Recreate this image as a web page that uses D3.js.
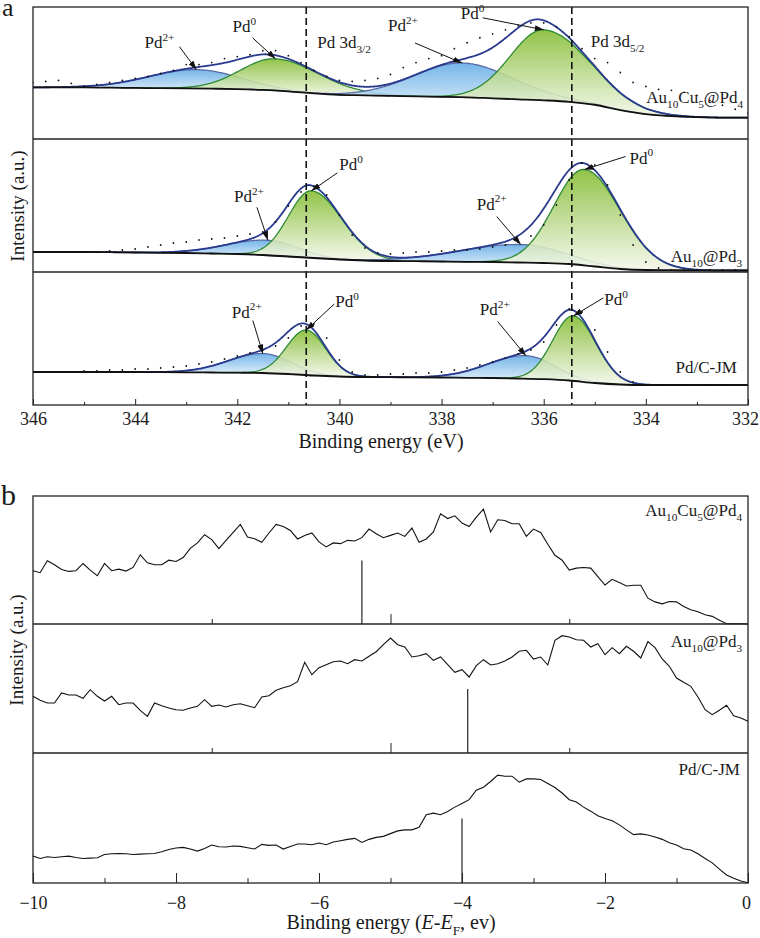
<!DOCTYPE html>
<html>
<head>
<meta charset="utf-8">
<script src="https://cdn.jsdelivr.net/npm/d3@7/dist/d3.min.js"></script>
<style>
  body { margin: 0; background: #fff; }
  svg { display: block; }
  text { font-family: "Liberation Serif", "Tinos", "DejaVu Serif", serif; fill: #1a1a1a; }
</style>
</head>
<body>
<svg id="chart" width="760" height="938"></svg>
<script>
// ---------- values ----------
var samples = ["Au10Cu5@Pd4", "Au10@Pd3", "Pd/C-JM"];

// (a) Pd 3d XPS
var xpsTicks = [346, 344, 342, 340, 338, 336, 334, 332];
var xpsMinorTicks = [345, 343, 341, 339, 337, 335, 333];
var doublets = [340.65, 335.45];
var doubletNames = ["3/2", "5/2"];
var states = ["2+", "0", "2+", "0"];
var peakCenter = [[342.8, 341.25, 337.6, 336.0], [341.4, 340.55, 336.45, 335.2], [341.5, 340.65, 336.35, 335.42]];
var peakHeight = [[19, 32, 34.5, 71], [15, 67, 18, 96], [19.5, 45, 23, 65]];
var peakFwhmHigh = [[2.2, 1.6, 2.2, 1.55], [1.9, 1.05, 2.8, 1.4], [1.6, 0.9, 1.75, 0.95]];
var peakFwhmLow = [[2.0, 2.05, 2.35, 2.1], [1.4, 1.4, 2.0, 1.65], [1.3, 0.9, 1.3, 1.05]];

var bgEnergy = [346, 345.5, 345, 344.5, 344, 343.5, 343, 342.5, 342, 341.5, 341, 340.5, 340, 339.5, 339,
  338.5, 338, 337.5, 337, 336.5, 336, 335.5, 335, 334.5, 334, 333.5, 333, 332.5, 332];
var bgValues = [
  [52, 52, 52, 51.7, 51.5, 51.2, 51, 50.7, 50.3, 49.5, 48, 46, 44.5, 44, 43.5, 43, 42.5, 42, 41, 40, 39, 37.5, 34.5, 29, 25, 23, 22, 21.5, 21.5],
  [20, 20, 20, 19.8, 19.5, 19.2, 19, 18.5, 18, 17, 15.5, 14, 12.5, 11.5, 11, 10.8, 10.5, 10.2, 10, 9.5, 9, 8, 5.5, 3, 2, 1.8, 1.6, 1.5, 1.5],
  [33, 33, 33, 33, 33, 32.8, 32.7, 32.5, 32.3, 32, 31, 29.5, 28.5, 28, 27.8, 27.6, 27.5, 27.2, 27, 26.5, 25.8, 24.5, 22, 20.5, 20, 20, 20, 20, 20]
];

var rawStart = 346, rawStep = 0.25;
var xpsRaw = [
  [57, 58, 59, 56, 53, 55, 57, 59, 61, 63, 66, 69, 75, 75, 77, 81, 83, 85, 89, 89, 84, 77, 69, 63, 59, 58, 59, 61, 65,
   72, 77, 81, 84, 91, 97, 102, 106, 110, 114, 117, 117, 113, 103, 91, 81, 77, 67, 57, 53, 50, 49, 47, 44, 39, 34, 30, 26],
  [20, 20, 20, 20, 20, 20, 21, 22, 23, 25, 27, 29, 30, 32, 33, 34, 36, 38, 40, 50, 66, 80, 86, 77, 57, 37, 24, 19, 18,
   19, 20, 20, 21, 22, 22, 23, 25, 27, 30, 36, 47, 67, 92, 109, 107, 87, 57, 27, 10, 4, 2, 2, 2, 2, 2, 2, 2],
  [33, 33, 33, 33, 34, 34, 35, 35, 36, 36, 37, 38, 39, 41, 43, 46, 49, 52, 55, 59, 67, 79, 81, 67, 45, 33, 30, 30, 31,
   31, 32, 32, 33, 35, 37, 40, 43, 47, 51, 55, 63, 80, 96, 93, 75, 53, 33, 23, 20, 20, 20, 20, 20, 20, 20, 20, 20]
];

// (b) valence band
var vbTicks = [-10, -8, -6, -4, -2, 0];
var vbMinorTicks = [-9, -7, -5, -3, -1];
var vbInnerTicks = [-7.5, -5, -2.5];
var dBandCenter = [-5.40, -3.92, -4.00];
var vbStart = -10, vbStep = 0.1;
var vbValues = [
  [53.7, 51.7, 63.7, 59.7, 55, 53, 53.7, 61, 54.3, 48.7, 61, 53.7, 55.3, 53.3, 57, 69.7, 61.7, 59.7, 59.7, 64.3,
   63, 67, 76.3, 81.7, 90, 85, 76, 84.3, 92.3, 100.3, 87.7, 86, 82.3, 91.7, 100.3, 98.3, 94.3, 85.7, 89.3, 91.7,
   82.7, 77.7, 81.7, 81, 84.3, 83.7, 87, 95.7, 91, 87, 89.3, 91.7, 88.3, 96.7, 82.3, 85.7, 92.7, 111, 106.3, 109,
   101.7, 98.3, 107.7, 115.7, 92.7, 105, 104.3, 101, 101, 88.3, 95.7, 92.3, 80.3, 69.3, 64.3, 54.3, 56.3, 57, 56.3, 47.7,
   39.3, 45, 41.7, 38.3, 39, 39, 26, 22.3, 20.3, 22.7, 22.3, 17.7, 14.3, 12.3, 9.3, 7.7, 3.7, 0.3, 0.3, 0.3, 0],
  [56.7, 52.7, 50, 50, 60, 58, 58, 54.7, 63.3, 56.7, 52, 56.7, 48.3, 50, 50, 42.7, 36.7, 50, 47.3, 45,
   43.3, 42.7, 45, 46.7, 53.3, 46.7, 48, 46, 48.3, 49.3, 47.3, 45.3, 56, 57.3, 62.7, 65.3, 67.3, 71.3, 90.7, 78.3,
   85.3, 88.3, 91.3, 92, 89.3, 93.3, 92, 96.7, 101.3, 108.3, 115, 108.3, 106, 96, 97.3, 99.3, 92.7, 96, 88.3, 80.7,
   83.3, 76, 87.3, 93.3, 88, 89.3, 92, 96, 101.7, 102.7, 94, 96, 88, 112.7, 117.3, 116, 113.3, 112.7, 106, 109.3,
   98.3, 105.3, 99.3, 106.7, 101.7, 95, 111.3, 105.3, 94, 86.7, 75, 70.7, 66.7, 56, 43.3, 38.3, 42.7, 47.7, 37.3, 35, 31.7],
  [26.7, 24.3, 26, 25.3, 26, 26.7, 25.3, 24.3, 24.7, 25, 28.3, 29, 29.3, 29, 28.3, 28.7, 29, 29.3, 31, 33.3,
   34.7, 35.3, 33.7, 31.7, 34.3, 37.7, 36, 35.7, 36.7, 36.3, 35, 33.7, 38.3, 37.3, 37.7, 33.7, 36.3, 38.7, 38.7, 38,
   39.7, 38, 40.7, 42, 43.3, 44.3, 40.3, 43.3, 45.3, 46.3, 49, 51.7, 52.7, 52.7, 55.3, 67.7, 69.3, 67.7, 71, 75.3,
   79, 82.7, 92, 95, 100.7, 107, 106, 106, 100, 103.3, 103.3, 102.7, 98.7, 94.7, 89.3, 82.7, 80.3, 75.3, 71.3, 66.7,
   64, 61.7, 57.7, 52.7, 48, 48.7, 47.7, 45.7, 43.3, 40, 37.7, 34, 32.7, 29, 24.3, 20, 13.7, 8, 4.7, 2, 0.3]
];

// ---------- layout ----------
var left = 33, right = 748;
var aRows = [7, 139, 272, 405];
var bRows = [496, 624, 753, 883];
var serif = "'Liberation Serif', 'Tinos', 'DejaVu Serif', serif";

// callouts: [textDx, textDy, arrowDx, arrowDy] relative to each component's top
var callouts = [
  [[-52, -22, -17, -23], [-43, -27, -23, -21], [-74, -32, -47, -20], [-83, -11, -61, -12]],
  [[-34, -38, -11, -33], [28, -21, 26, -18], [-44, -35, -24, -28], [45, -6, 41, -13]],
  [[-31, -36, -10, -33], [29, -23, 28, -26], [-46, -41, -28, -34], [31, -11, 30, -18]]
];
var xpsNameRight = [743, 742, 737], xpsNameUp = [36, 10, 32];
var vbNameRight = [742, 742, 740], vbNameDown = [20, 23, 22];

var svg = d3.select("#chart").attr("font-family", serif);
var defs = svg.append("defs");

function addGradient(id, top, bottom) {
  var g = defs.append("linearGradient").attr("id", id)
    .attr("x1", 0).attr("y1", 0).attr("x2", 0).attr("y2", 1);
  g.append("stop").attr("offset", "0%").attr("stop-color", top);
  g.append("stop").attr("offset", "100%").attr("stop-color", bottom);
}
addGradient("gBlue", "#62abe5", "#eef6fc");
addGradient("gGreen", "#82bb2f", "#f5f8ec");

defs.append("marker").attr("id", "arrow")
  .attr("viewBox", "0 0 9 6").attr("refX", 9).attr("refY", 3)
  .attr("markerWidth", 9).attr("markerHeight", 6)
  .attr("markerUnits", "userSpaceOnUse").attr("orient", "auto")
  .append("path").attr("d", "M0,0L9,3L0,6Z").attr("fill", "#111");

function rich(g, x, y, parts, size, anchor) {
  var t = g.append("text").attr("x", x).attr("y", y)
    .attr("font-size", size).attr("text-anchor", anchor || "start");
  var cur = 0;
  parts.forEach(function(p) {
    var shift = p.sub ? size * 0.3 : (p.sup ? -size * 0.42 : 0);
    var ts = t.append("tspan").attr("dy", shift - cur).text(p.t);
    if (p.sub || p.sup) ts.attr("font-size", size * 0.66);
    if (p.it) ts.style("font-style", "italic");
    cur = shift;
  });
  return t;
}

function formula(name) {
  return name.split(/(\d+)/).filter(function(s) { return s.length; })
    .map(function(s) { return /^\d+$/.test(s) ? {t: s, sub: true} : {t: s}; });
}

function peakAt(e, c, h, wHigh, wLow) {
  var s = (e > c ? wHigh : wLow) / 2.3548;
  return h * Math.exp(-(e - c) * (e - c) / (2 * s * s));
}

// ================= panel (a) =================
var xA = d3.scaleLinear().domain([346, 332]).range([left, right]);
var fine = d3.range(346, 331.99, -0.02);

samples.forEach(function(name, i) {
  var top = aRows[i], bottom = aRows[i + 1];
  var y = d3.scaleLinear().domain([0, 133]).range([bottom, top]);
  var bg = d3.scaleLinear().domain(bgEnergy).range(bgValues[i]);

  defs.append("clipPath").attr("id", "clipA" + i)
    .append("rect").attr("x", left).attr("y", top).attr("width", right - left).attr("height", bottom - top);
  var g = svg.append("g").attr("clip-path", "url(#clipA" + i + ")");

  // fitted components
  peakCenter[i].forEach(function(c, k) {
    var h = peakHeight[i][k], wh = peakFwhmHigh[i][k], wl = peakFwhmLow[i][k];
    var e0 = Math.min(346, c + 1.9 * wh), e1 = Math.max(332, c - 1.9 * wl);
    var pts = fine.filter(function(e) { return e <= e0 && e >= e1; });
    var isPd0 = states[k] === "0";
    g.append("path").datum(pts)
      .attr("d", d3.area()
        .x(function(e) { return xA(e); })
        .y0(function(e) { return y(bg(e)); })
        .y1(function(e) { return y(bg(e) + peakAt(e, c, h, wh, wl)); }))
      .attr("fill", isPd0 ? "url(#gGreen)" : "url(#gBlue)")
      .attr("fill-opacity", 0.88);
    g.append("path").datum(pts)
      .attr("d", d3.line()
        .x(function(e) { return xA(e); })
        .y(function(e) { return y(bg(e) + peakAt(e, c, h, wh, wl)); }))
      .attr("fill", "none")
      .attr("stroke", isPd0 ? "#2f8a35" : "#5a6ca6")
      .attr("stroke-width", 1.3);
  });

  // envelope
  g.append("path").datum(fine)
    .attr("d", d3.line()
      .x(function(e) { return xA(e); })
      .y(function(e) {
        var s = bg(e);
        peakCenter[i].forEach(function(c, k) {
          s += peakAt(e, c, peakHeight[i][k], peakFwhmHigh[i][k], peakFwhmLow[i][k]);
        });
        return y(s);
      }))
    .attr("fill", "none").attr("stroke", "#2a3a8e").attr("stroke-width", 1.8);

  // background
  g.append("path").datum(bgEnergy)
    .attr("d", d3.line()
      .x(function(e) { return xA(e); })
      .y(function(e) { return y(bg(e)); })
      .curve(d3.curveMonotoneX))
    .attr("fill", "none").attr("stroke", "#111").attr("stroke-width", 1.8);

  // raw data
  g.selectAll("circle.raw").data(xpsRaw[i]).enter().append("circle")
    .attr("class", "raw")
    .attr("cx", function(d, j) { return xA(rawStart - rawStep * j); })
    .attr("cy", function(d) { return y(d); })
    .attr("r", 0.9).attr("fill", "#111");

  // callouts
  peakCenter[i].forEach(function(c, k) {
    var tx = xA(c), ty = y(bg(c) + peakHeight[i][k]);
    var o = callouts[i][k];
    svg.append("line")
      .attr("x1", tx + o[2]).attr("y1", ty + o[3]).attr("x2", tx).attr("y2", ty)
      .attr("stroke", "#111").attr("stroke-width", 1).attr("marker-end", "url(#arrow)");
    rich(svg, tx + o[0], ty + o[1], [{t: "Pd"}, {t: states[k], sup: true}], 17);
  });

  rich(svg, xpsNameRight[i], bottom - xpsNameUp[i], formula(name), 17, "end");
});

// dashed doublet markers
doublets.forEach(function(e, k) {
  svg.append("line")
    .attr("x1", xA(e)).attr("x2", xA(e)).attr("y1", aRows[0]).attr("y2", aRows[3])
    .attr("stroke", "#111").attr("stroke-width", 1.6).attr("stroke-dasharray", "7,4");
  rich(svg, xA(e) + (k === 0 ? 11 : 19), k === 0 ? 48 : 47,
    [{t: "Pd 3d"}, {t: doubletNames[k], sub: true}], 17);
});

// frame
svg.append("rect").attr("x", left).attr("y", aRows[0]).attr("width", right - left).attr("height", aRows[3] - aRows[0])
  .attr("fill", "none").attr("stroke", "#222").attr("stroke-width", 1.3);
[aRows[1], aRows[2]].forEach(function(r) {
  svg.append("line").attr("x1", left).attr("x2", right).attr("y1", r).attr("y2", r)
    .attr("stroke", "#222").attr("stroke-width", 1.3);
});

var axA = svg.append("g").attr("transform", "translate(0," + aRows[3] + ")")
  .call(d3.axisBottom(xA).tickValues(xpsTicks).tickSize(-6).tickPadding(7).tickFormat(d3.format("d")));
axA.select(".domain").remove();
axA.selectAll("text").attr("font-size", 18).attr("font-family", serif).attr("fill", "#1a1a1a")
  .attr("dx", function(d) { return d === 332 ? -3 : 0; });
var axAm = svg.append("g").attr("transform", "translate(0," + aRows[3] + ")")
  .call(d3.axisBottom(xA).tickValues(xpsMinorTicks).tickSize(-3).tickFormat(""));
axAm.select(".domain").remove();
svg.selectAll(".tick line").attr("stroke", "#222");

svg.append("text").attr("x", 381).attr("y", 448).attr("text-anchor", "middle")
  .attr("font-size", 20).text("Binding energy (eV)");
svg.append("text").attr("transform", "translate(24,206)rotate(-90)").attr("text-anchor", "middle")
  .attr("font-size", 19).text("Intensity (a.u.)");
svg.append("text").attr("x", 2).attr("y", 16).attr("font-size", 26).text("a");

// ================= panel (b) =================
var xB = d3.scaleLinear().domain([-10, 0]).range([left, right]);

samples.forEach(function(name, i) {
  var top = bRows[i], bottom = bRows[i + 1];
  var y = d3.scaleLinear().domain([0, 129]).range([bottom, top]);
  svg.append("path").datum(vbValues[i])
    .attr("d", d3.line()
      .x(function(d, j) { return xB(vbStart + vbStep * j); })
      .y(function(d) { return y(d); }))
    .attr("fill", "none").attr("stroke", "#111").attr("stroke-width", 1.1);
  svg.append("line")
    .attr("x1", xB(dBandCenter[i])).attr("x2", xB(dBandCenter[i]))
    .attr("y1", y(0)).attr("y2", y(64))
    .attr("stroke", "#111").attr("stroke-width", 1.1);
  rich(svg, vbNameRight[i], top + vbNameDown[i], formula(name), 17, "end");
});

svg.append("rect").attr("x", left).attr("y", bRows[0]).attr("width", right - left).attr("height", bRows[3] - bRows[0])
  .attr("fill", "none").attr("stroke", "#222").attr("stroke-width", 1.3);
[bRows[1], bRows[2]].forEach(function(r) {
  svg.append("line").attr("x1", left).attr("x2", right).attr("y1", r).attr("y2", r)
    .attr("stroke", "#222").attr("stroke-width", 1.3);
  var inner = svg.append("g").attr("transform", "translate(0," + r + ")")
    .call(d3.axisBottom(xB).tickValues(vbInnerTicks).tickFormat("")
      .tickSize(-5));
  inner.select(".domain").remove();
  inner.selectAll(".tick line").attr("y2", function(d) { return d === -5 ? -10 : -5; }).attr("stroke", "#222");
});

var axB = svg.append("g").attr("transform", "translate(0," + bRows[3] + ")")
  .call(d3.axisBottom(xB).tickValues(vbTicks).tickSize(-10).tickPadding(13));
axB.select(".domain").remove();
axB.selectAll("text").attr("font-size", 18).attr("font-family", serif).attr("fill", "#1a1a1a")
  .attr("dx", function(d) { return d === 0 ? -2 : 0; });
var axBm = svg.append("g").attr("transform", "translate(0," + bRows[3] + ")")
  .call(d3.axisBottom(xB).tickValues(vbMinorTicks).tickSize(-5).tickFormat(""));
axBm.select(".domain").remove();
svg.selectAll(".tick line").attr("stroke", "#222");

rich(svg, 391, 929, [{t: "Binding energy ("}, {t: "E", it: true}, {t: "-"}, {t: "E", it: true},
  {t: "F", sub: true}, {t: ", ev)"}], 20, "middle");
svg.append("text").attr("transform", "translate(23,650)rotate(-90)").attr("text-anchor", "middle")
  .attr("font-size", 19).text("Intensity (a.u.)");
svg.append("text").attr("x", 1).attr("y", 505).attr("font-size", 30).text("b");
</script>
</body>
</html>
